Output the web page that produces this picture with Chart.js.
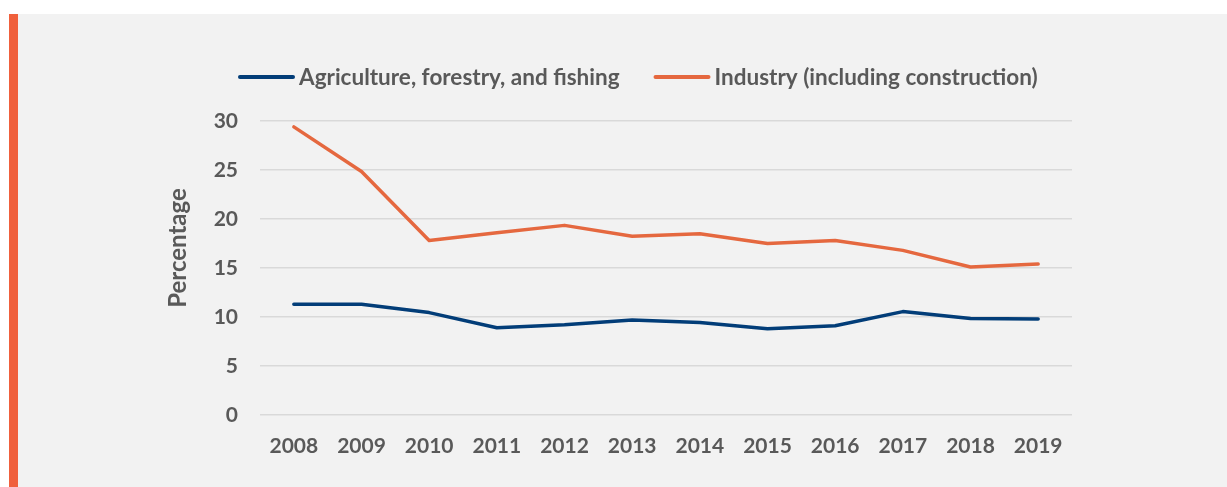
<!DOCTYPE html>
<html>
<head>
<meta charset="utf-8">
<script src="https://cdn.jsdelivr.net/npm/chart.js@4"></script>
<style>
  html, body { margin: 0; padding: 0; background: #ffffff; }
  #panel { position: absolute; left: 9px; top: 14px; width: 1218px; height: 473px; background: #f2f2f2; }
  #accent { position: absolute; left: 9px; top: 14px; width: 9px; height: 473px; background: #f0603c; }
  #chart { position: absolute; left: 9px; top: 14px; }
</style>
</head>
<body>
<div id="panel"></div>
<canvas id="chart" width="1218" height="473"></canvas>
<div id="accent"></div>
<script>
// Share of employment by sector, 2008-2019
const years = ['2008', '2009', '2010', '2011', '2012', '2013', '2014', '2015', '2016', '2017', '2018', '2019'];
const agriculture = [11.3, 11.3, 10.45, 8.9, 9.2, 9.7, 9.45, 8.8, 9.1, 10.55, 9.85, 9.8];
const industry = [29.4, 24.85, 17.8, 18.6, 19.35, 18.25, 18.5, 17.5, 17.8, 16.8, 15.1, 15.4];
const seriesNames = ['Agriculture, forestry, and fishing', 'Industry (including construction)'];
const yTicks = [0, 5, 10, 15, 20, 25, 30];
const yTitle = 'Percentage';

const BLUE = '#023d78';
const ORANGE = '#e5683f';
const TEXT = '#595959';
const FONT = 'Lato, "DejaVu Sans", sans-serif';

// Legend row and rotated axis title, drawn on the chart canvas
const decorations = {
  id: 'decorations',
  afterDraw(chart) {
    const { ctx, chartArea } = chart;
    ctx.save();
    ctx.font = 'bold 22.5px ' + FONT;
    ctx.fillStyle = TEXT;
    ctx.textBaseline = 'middle';
    ctx.textAlign = 'left';
    // legend
    const ly = chartArea.top - 44;
    let x = chartArea.left - 20;
    chart.data.datasets.forEach((ds) => {
      ctx.strokeStyle = ds.borderColor;
      ctx.lineWidth = 4;
      ctx.lineCap = 'round';
      ctx.beginPath();
      ctx.moveTo(x, ly);
      ctx.lineTo(x + 53, ly);
      ctx.stroke();
      x += 59;
      ctx.fillText(ds.label, x, ly + 1);
      x += ctx.measureText(ds.label).width + 36;
    });
    // y axis title
    ctx.font = 'bold 24px ' + FONT;
    ctx.translate(chartArea.left - 82, chartArea.top + 127);
    ctx.rotate(-Math.PI / 2);
    ctx.textAlign = 'center';
    ctx.fillText(yTitle, 0, 0);
    ctx.restore();
  }
};

new Chart(document.getElementById('chart'), {
  type: 'line',
  data: {
    labels: years,
    datasets: [
      { label: seriesNames[0], data: agriculture, borderColor: BLUE, backgroundColor: BLUE },
      { label: seriesNames[1], data: industry, borderColor: ORANGE, backgroundColor: ORANGE }
    ]
  },
  options: {
    responsive: false,
    animation: false,
    devicePixelRatio: 1,
    layout: { padding: { top: 107, right: 155, bottom: 0, left: 0 } },
    elements: {
      line: { borderWidth: 3.5, tension: 0, borderCapStyle: 'round', borderJoinStyle: 'round' },
      point: { radius: 0, hoverRadius: 0 }
    },
    plugins: { legend: { display: false }, tooltip: { enabled: false } },
    scales: {
      x: {
        offset: true,
        grid: { display: false, drawTicks: false },
        border: { display: false },
        ticks: { color: TEXT, font: { family: FONT, size: 21, weight: 'bold' }, padding: 19, maxRotation: 0 },
        afterFit: (s) => { s.height = 72; }
      },
      y: {
        min: 0,
        max: 30,
        afterBuildTicks: (s) => { s.ticks = yTicks.map((v) => ({ value: v })); },
        grid: { color: '#d9d9d9', lineWidth: 1.5, drawTicks: false },
        border: { display: false },
        ticks: { color: TEXT, font: { family: FONT, size: 21, weight: 'bold' }, padding: 22 },
        afterFit: (s) => { s.width = 251; }
      }
    }
  },
  plugins: [decorations]
});
</script>
</body>
</html>
